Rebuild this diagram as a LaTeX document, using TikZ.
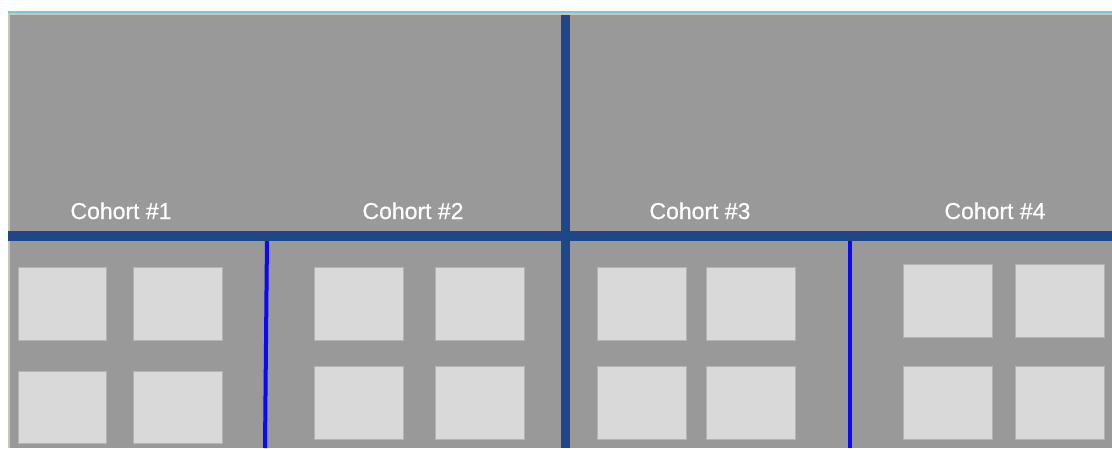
\documentclass[tikz,border=0pt]{standalone}
\usepackage{fontspec}
\setmainfont{Liberation Sans}
\newfontfamily\labelfont{Liberation Sans}[FakeBold=0.6]
\definecolor{bggray}{HTML}{999999}
\definecolor{sqfill}{HTML}{D9D9D9}
\definecolor{sqedge}{HTML}{B4B4B4}
\definecolor{darkblue}{HTML}{1F4788}
\definecolor{brightblue}{HTML}{0A0AF5}
\definecolor{tealline}{HTML}{7CC6CE}
\definecolor{beige}{HTML}{CBC6B2}
\tikzset{
  sq/.style={draw=sqedge, fill=sqfill, line width=1pt, inner sep=0pt, anchor=north west, minimum width=89pt, minimum height=73pt},
  cohortlabel/.style={text=white, anchor=base, inner sep=0pt, font=\labelfont\fontsize{23}{27}\selectfont},
  mainsep/.style={draw=darkblue, line width=9.5pt},
  subsep/.style={draw=brightblue, line width=4pt}
}
\begin{document}
\begin{tikzpicture}[x=1pt,y=-1pt]
\useasboundingbox (0,0) rectangle (1112,448);
\fill[white] (0,0) rectangle (1112,448);
\fill[bggray] (8,14) rectangle (1112,448);
\fill[tealline] (8,11) rectangle (1112,13);
\fill[beige] (8,13) rectangle (1112,15);
\fill[beige] (8,13) rectangle (10,448);

% squares
\node[sq, minimum width=88pt] (c1a) at (18,267) {};
\node[sq] (c1b) at (133,267) {};
\node[sq, minimum width=88pt, minimum height=72pt] (c1c) at (18,371) {};
\node[sq, minimum height=72pt] (c1d) at (133,371) {};

\node[sq] (c2a) at (314,267) {};
\node[sq] (c2b) at (435,267) {};
\node[sq] (c2c) at (314,366) {};
\node[sq] (c2d) at (435,366) {};

\node[sq] (c3a) at (597,267) {};
\node[sq] (c3b) at (706,267) {};
\node[sq] (c3c) at (597,366) {};
\node[sq] (c3d) at (706,366) {};

\node[sq] (c4a) at (903,264) {};
\node[sq] (c4b) at (1015,264) {};
\node[sq] (c4c) at (903,366) {};
\node[sq] (c4d) at (1015,366) {};

% labels
\node[cohortlabel] (l1) at (121,219) {Cohort \#1};
\node[cohortlabel] (l2) at (413,219) {Cohort \#2};
\node[cohortlabel] (l3) at (700,219) {Cohort \#3};
\node[cohortlabel] (l4) at (995,219) {Cohort \#4};

% separators
\coordinate (hL) at (8,236);
\coordinate (hR) at (1112,236);
\coordinate (vT) at (565.5,15);
\coordinate (vB) at (565.5,448);
\coordinate (s1T) at (267,238);
\coordinate (s1B) at (265,448);
\coordinate (s2T) at (850,238);
\coordinate (s2B) at (850,448);
\draw[subsep] (s1T) -- (s1B);
\draw[subsep] (s2T) -- (s2B);
\draw[mainsep] (hL) -- (hR);
\draw[mainsep] (vT) -- (vB);
\end{tikzpicture}
\end{document}
